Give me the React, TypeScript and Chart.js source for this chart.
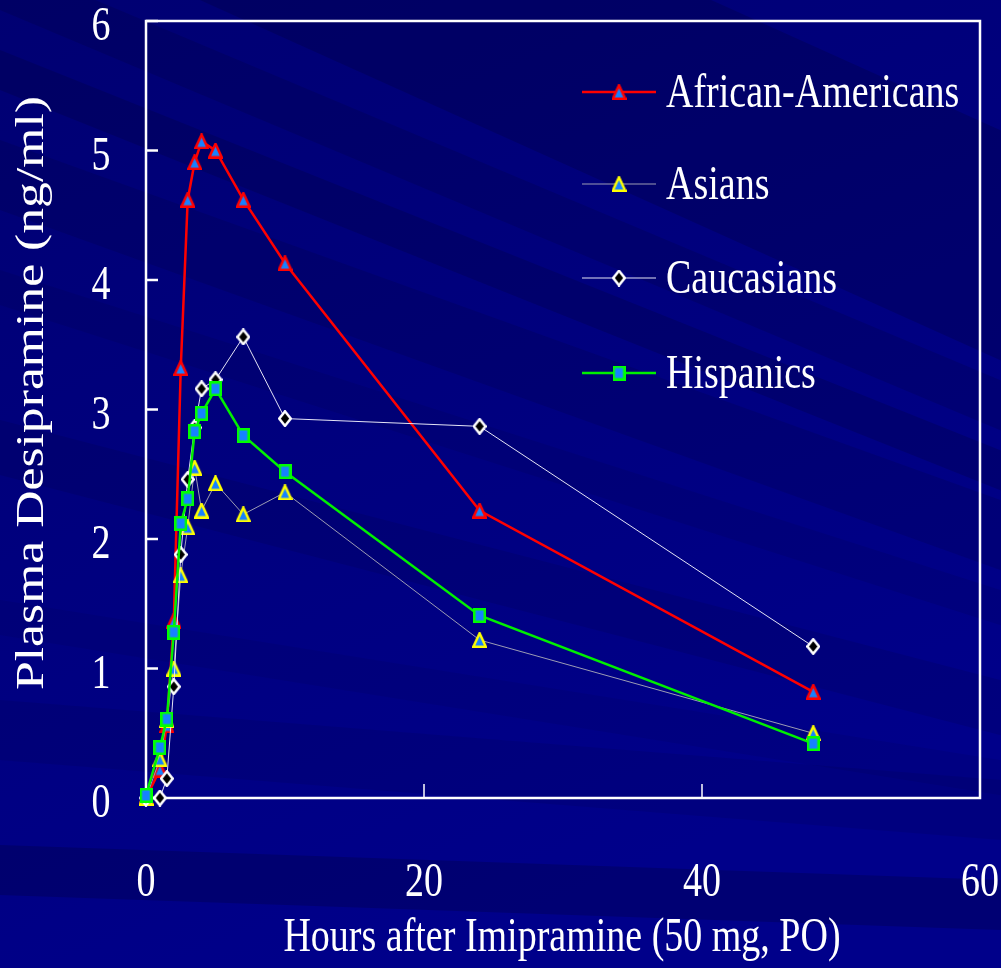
import React, { useEffect, useRef } from "react";
import { Chart, registerables } from "chart.js";

Chart.register(...registerables);

// ---------- data ----------
const seriesNames = ["African-Americans", "Asians", "Caucasians", "Hispanics"];
const hours = [0, 1, 1.5, 2, 2.5, 3, 3.5, 4, 5, 7, 10, 24, 48];
const africanAmericans = [0, 0.22, 0.56, 1.37, 3.32, 4.62, 4.91, 5.07, 5.0, 4.62, 4.13, 2.22, 0.82];
const asians = [0, 0.3, 0.6, 1.0, 1.72, 2.09, 2.55, 2.22, 2.43, 2.19, 2.36, 1.22, 0.5];
const caucasians = [0, 0, 0.15, 0.86, 1.88, 2.46, 2.86, 3.16, 3.23, 3.56, 2.93, 2.87, 1.17];
const hispanics = [0.02, 0.39, 0.61, 1.28, 2.12, 2.31, 2.83, 2.97, 3.16, 2.8, 2.52, 1.41, 0.42];
const xTickValues = [0, 20, 40, 60];
const yTickValues = [0, 1, 2, 3, 4, 5, 6];
const xTitle = "Hours after Imipramine (50 mg, PO)";
const yTitle = "Plasma Desipramine (ng/ml)";

// ---------- styles ----------
const FONT = '"Liberation Serif", "Times New Roman", serif';
const STRETCH = 1.26;
const MARKER_BLUE = "#1682FF";

type Sty = {
  line: string;
  lineWidth: number;
  shape: "triangle" | "square" | "diamond";
  w: number;
  h: number;
  fill: string;
  stroke: string;
};

const styles: Sty[] = [
  { line: "#FF0000", lineWidth: 2.5, shape: "triangle", w: 15, h: 16, fill: MARKER_BLUE, stroke: "#FF0000" },
  { line: "#9C9CB4", lineWidth: 1, shape: "triangle", w: 15, h: 16, fill: MARKER_BLUE, stroke: "#FFFF00" },
  { line: "#E4E4F6", lineWidth: 1, shape: "diamond", w: 14, h: 17, fill: "#000000", stroke: "#FFFFFF" },
  { line: "#00F000", lineWidth: 2.5, shape: "square", w: 13, h: 15, fill: MARKER_BLUE, stroke: "#00FF00" },
];

function makeMarker(s: Sty): HTMLCanvasElement {
  const c = document.createElement("canvas");
  c.width = s.w;
  c.height = s.h;
  const ctx = c.getContext("2d") as CanvasRenderingContext2D;
  const lw = 2.5;
  const i = lw / 2;
  ctx.beginPath();
  if (s.shape === "triangle") {
    ctx.moveTo(s.w / 2, i);
    ctx.lineTo(s.w - i, s.h - i);
    ctx.lineTo(i, s.h - i);
  } else if (s.shape === "square") {
    ctx.rect(i, i, s.w - lw, s.h - lw);
  } else {
    ctx.moveTo(s.w / 2, i);
    ctx.lineTo(s.w - i, s.h / 2);
    ctx.lineTo(s.w / 2, s.h - i);
    ctx.lineTo(i, s.h / 2);
  }
  ctx.closePath();
  ctx.fillStyle = s.fill;
  ctx.fill();
  ctx.lineWidth = lw;
  ctx.lineJoin = "miter";
  ctx.strokeStyle = s.stroke;
  ctx.stroke();
  return c;
}

function stretchedText(ctx: CanvasRenderingContext2D, text: string, x: number, y: number, size: number, align: CanvasTextAlign) {
  ctx.save();
  ctx.translate(x, y);
  ctx.scale(1, STRETCH);
  ctx.font = `${size}px ${FONT}`;
  ctx.textAlign = align;
  ctx.textBaseline = "alphabetic";
  ctx.fillStyle = "#FFFFFF";
  ctx.fillText(text, 0, 0);
  ctx.restore();
}

function makePlugin(markers: HTMLCanvasElement[]) {
  return {
    id: "slideDecor",
    beforeDraw(chart: any) {
      const { ctx, width: W, height: H } = chart;
      ctx.save();
      const g = ctx.createLinearGradient(0, 0, W * 0.4, H);
      g.addColorStop(0, "#000072");
      g.addColorStop(0.5, "#00007E");
      g.addColorStop(1, "#00008A");
      ctx.fillStyle = g;
      ctx.fillRect(0, 0, W, H);
      // diagonal streaks: [y at x=0, thickness, slope, alpha]
      const bands: number[][] = [
        [-320, 230, 0.45, 0.22],
        [-40, 50, 0.42, 0.16],
        [50, 40, 0.4, 0.2],
        [140, 70, 0.36, 0.15],
        [270, 35, 0.32, 0.1],
        [420, 55, 0.26, 0.12],
        [600, 35, 0.16, 0.08],
        [700, 60, 0.08, 0.1],
        [845, 50, 0.035, 0.24],
      ];
      for (const [y0, th, sl, a] of bands) {
        ctx.beginPath();
        ctx.moveTo(0, y0);
        ctx.lineTo(W, y0 + sl * W);
        ctx.lineTo(W, y0 + sl * W + th);
        ctx.lineTo(0, y0 + th);
        ctx.closePath();
        ctx.fillStyle = `rgba(0,0,40,${a})`;
        ctx.fill();
      }
      ctx.restore();
    },
    beforeDatasetsDraw(chart: any) {
      const { ctx, chartArea: ca, scales } = chart;
      ctx.save();
      ctx.strokeStyle = "#FFFFFF";
      ctx.lineWidth = 2.5;
      ctx.strokeRect(ca.left, ca.top, ca.right - ca.left, ca.bottom - ca.top);
      for (const v of yTickValues) {
        const py = scales.y.getPixelForValue(v);
        ctx.beginPath();
        ctx.moveTo(ca.left, py);
        ctx.lineTo(ca.left + 12, py);
        ctx.stroke();
      }
      ctx.lineWidth = 1.5;
      for (const v of xTickValues) {
        const px = scales.x.getPixelForValue(v);
        ctx.beginPath();
        ctx.moveTo(px, ca.bottom);
        ctx.lineTo(px, ca.bottom - 14);
        ctx.stroke();
      }
      ctx.restore();
    },
    afterDraw(chart: any) {
      const { ctx, scales } = chart;
      for (const v of yTickValues) {
        const py = scales.y.getPixelForValue(v);
        stretchedText(ctx, String(v), 101, py + 19, 38, "center");
      }
      for (const v of xTickValues) {
        const px = scales.x.getPixelForValue(v);
        stretchedText(ctx, String(v), px, 896, 38, "center");
      }
      stretchedText(ctx, xTitle, 562, 951, 38, "center");
      ctx.save();
      ctx.translate(43, 393);
      ctx.rotate(-Math.PI / 2);
      ctx.scale(STRETCH, 1);
      ctx.font = `41px ${FONT}`;
      ctx.textAlign = "center";
      ctx.textBaseline = "alphabetic";
      ctx.fillStyle = "#FFFFFF";
      ctx.fillText(yTitle, 0, 0);
      ctx.restore();
      // legend
      const rows = [92, 184, 278, 373];
      seriesNames.forEach((name, i) => {
        const s = styles[i];
        const y = rows[i];
        ctx.save();
        ctx.strokeStyle = s.line;
        ctx.lineWidth = s.lineWidth;
        ctx.beginPath();
        ctx.moveTo(582, y);
        ctx.lineTo(656, y);
        ctx.stroke();
        const m = markers[i];
        ctx.drawImage(m, 619 - m.width / 2, y - m.height / 2);
        ctx.restore();
        stretchedText(ctx, name, 666, y + 15, 38, "left");
      });
    },
  };
}

const seriesValues = [africanAmericans, asians, caucasians, hispanics];
const drawOrder = [3, 2, 1, 0];

export default function App() {
  const ref = useRef<HTMLCanvasElement | null>(null);
  useEffect(() => {
    if (!ref.current) return;
    const markers = styles.map(makeMarker);
    const datasets = seriesNames.map((name, i) => {
      const s = styles[i];
      return {
        label: name,
        data: hours.map((h, j) => ({ x: h, y: seriesValues[i][j] })),
        borderColor: s.line,
        borderWidth: s.lineWidth,
        backgroundColor: s.fill,
        pointStyle: markers[i] as any,
        pointRadius: 8,
        tension: 0,
        fill: false,
        clip: false as any,
        order: drawOrder[i],
      };
    });
    const chart = new Chart(ref.current, {
      type: "line",
      data: { datasets },
      options: {
        responsive: false,
        animation: false,
        devicePixelRatio: 1,
        layout: { padding: { left: 146, right: 21, top: 21, bottom: 170 } },
        plugins: { legend: { display: false }, tooltip: { enabled: false } },
        events: [],
        scales: {
          x: { type: "linear", min: 0, max: 60, display: false },
          y: { type: "linear", min: 0, max: 6, display: false },
        },
      },
      plugins: [makePlugin(markers)],
    });
    return () => chart.destroy();
  }, []);
  return (
    <div style={{ position: "absolute", left: 0, top: 0, width: 1001, height: 968 }}>
      <canvas ref={ref} width={1001} height={968} style={{ display: "block" }} />
    </div>
  );
}
